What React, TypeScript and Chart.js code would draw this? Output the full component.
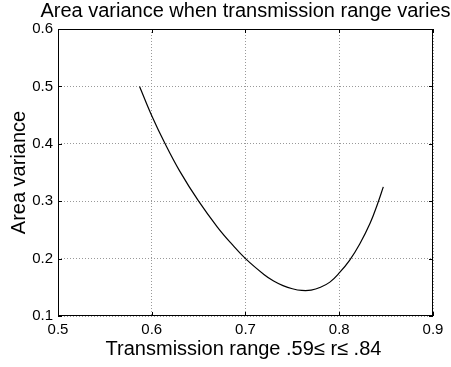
import React, { useEffect, useRef } from "react";
import { Chart, registerables } from "chart.js";

Chart.register(...registerables);

const titleText = "Area variance when transmission range varies";
const xTitle = "Transmission range .59\u2264 r\u2264 .84";
const yTitle = "Area variance";

const rangeX = [0.587, 0.600, 0.614, 0.630, 0.650, 0.670, 0.685, 0.700, 0.720, 0.730, 0.740, 0.750, 0.760, 0.770, 0.780, 0.790, 0.800, 0.811, 0.822, 0.833, 0.841, 0.847];
const varianceY = [0.500, 0.449, 0.401, 0.352, 0.300, 0.255, 0.226, 0.200, 0.172, 0.161, 0.153, 0.1475, 0.1445, 0.145, 0.150, 0.159, 0.175, 0.197, 0.226, 0.262, 0.296, 0.325];

const xTicks = [0.5, 0.6, 0.7, 0.8, 0.9];
const yTicks = [0.1, 0.2, 0.3, 0.4, 0.5, 0.6];

const FONT = "'Liberation Sans', Arial, Helvetica, sans-serif";

const framePlugin = {
  id: "frame",
  afterDatasetsDraw(chart: any) {
    const { ctx, chartArea } = chart;
    const { left, right, top, bottom } = chartArea;
    const xs = chart.scales.x;
    const ys = chart.scales.y;
    ctx.save();
    ctx.strokeStyle = "#000";
    ctx.lineWidth = 1;
    ctx.strokeRect(left + 0.5, top + 0.5, right - left - 1, bottom - top - 1);
    const tl = 4;
    ctx.beginPath();
    xTicks.forEach((v) => {
      const px = Math.round(xs.getPixelForValue(v)) + 0.5;
      ctx.moveTo(px, bottom);
      ctx.lineTo(px, bottom - tl);
      ctx.moveTo(px, top);
      ctx.lineTo(px, top + tl);
    });
    yTicks.forEach((v) => {
      const py = Math.round(ys.getPixelForValue(v)) + 0.5;
      ctx.moveTo(left, py);
      ctx.lineTo(left + tl, py);
      ctx.moveTo(right, py);
      ctx.lineTo(right - tl, py);
    });
    ctx.stroke();

    ctx.fillStyle = "#000";
    ctx.font = `20px ${FONT}`;
    ctx.textAlign = "center";
    ctx.textBaseline = "alphabetic";
    ctx.fillText(titleText, (left + right) / 2, 17);
    ctx.fillText(xTitle, (left + right) / 2 - 2, 355);
    ctx.translate(25, (top + bottom) / 2);
    ctx.rotate(-Math.PI / 2);
    ctx.fillText(yTitle, 0, 0);
    ctx.restore();
  },
};

export default function App() {
  const ref = useRef<HTMLCanvasElement | null>(null);
  useEffect(() => {
    if (!ref.current) return;
    const chart = new Chart(ref.current, {
      type: "line",
      data: {
        datasets: [
          {
            data: rangeX.map((x, i) => ({ x, y: varianceY[i] })),
            borderColor: "#000",
            borderWidth: 1.2,
            pointRadius: 0,
            fill: false,
            tension: 0.4,
          },
        ],
      },
      options: {
        animation: false,
        responsive: false,
        maintainAspectRatio: false,
        layout: { padding: { top: 29, right: 18, left: 0, bottom: 0 } },
        plugins: { legend: { display: false }, tooltip: { enabled: false }, title: { display: false } },
        scales: {
          x: {
            type: "linear",
            min: 0.5,
            max: 0.9,
            afterFit: (s: any) => { s.height = 51; },
            afterBuildTicks: (s: any) => { s.ticks = xTicks.map((v) => ({ value: v })); },
            ticks: {
              color: "#000",
              font: { family: FONT, size: 15 },
              padding: 5,
              maxRotation: 0,
              callback: (v: any) => Number(v).toFixed(1),
            },
            grid: { color: "#999", drawTicks: false, lineWidth: 1 },
            border: { display: false, dash: [1, 2] },
          },
          y: {
            type: "linear",
            min: 0.1,
            max: 0.6,
            afterFit: (s: any) => { s.width = 58; },
            afterBuildTicks: (s: any) => { s.ticks = yTicks.map((v) => ({ value: v })); },
            ticks: {
              color: "#000",
              font: { family: FONT, size: 15 },
              padding: 5,
              callback: (v: any) => Number(v).toFixed(1),
            },
            grid: { color: "#999", drawTicks: false, lineWidth: 1 },
            border: { display: false, dash: [1, 2] },
          },
        },
      } as any,
      plugins: [framePlugin],
    });
    return () => chart.destroy();
  }, []);
  return (
    <div style={{ position: "absolute", left: 0, top: 0, width: 451, height: 367, background: "#fff" }}>
      <canvas ref={ref} width={451} height={367} style={{ display: "block", width: 451, height: 367 }} />
    </div>
  );
}
